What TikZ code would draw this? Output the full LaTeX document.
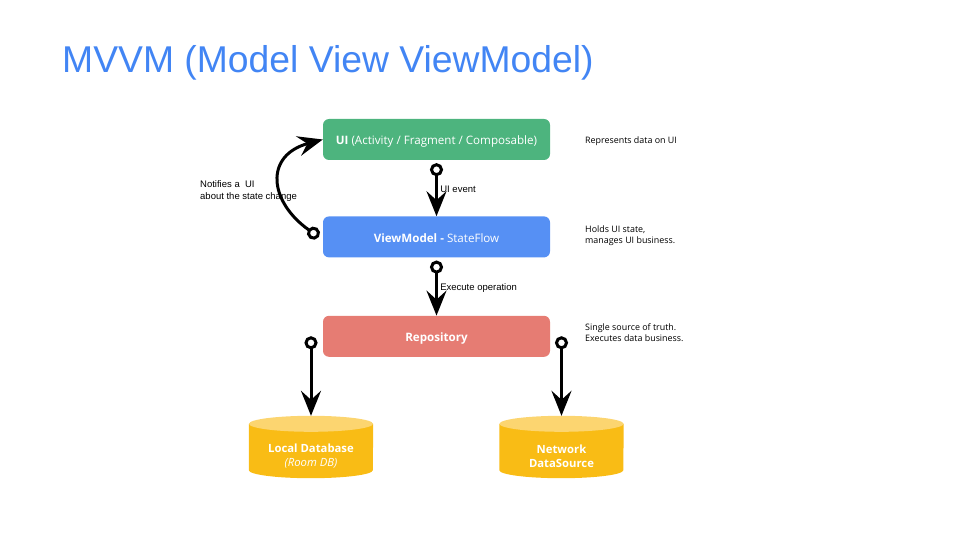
\documentclass[tikz,border=0pt]{standalone}
\usepackage{fontspec}
\setmainfont{Open Sans}
\newfontfamily\arialfont{Liberation Sans}
\usetikzlibrary{arrows.meta}
\usetikzlibrary{calc}
\usetikzlibrary{positioning}
\definecolor{titleblue}{HTML}{4285F4}
\definecolor{uigreen}{HTML}{4DB47E}
\definecolor{vmblue}{HTML}{5690F4}
\definecolor{repored}{HTML}{E67C73}
\definecolor{dbyellow}{HTML}{F9BC15}
\definecolor{dbtop}{HTML}{FCD570}
\tikzset{>=Stealth}

\begin{document}
\begin{tikzpicture}[x=1pt,y=-1pt,
  layer/.style={rectangle,rounded corners=6pt,minimum width=227pt,minimum height=41pt,inner sep=0pt,text height=11.5pt,text depth=0.8pt,text=white,font=\fontsize{11.6}{13}\selectfont},
  dbbox/.style={rectangle,minimum width=124pt,minimum height=62pt,inner sep=0pt},
  dbtext/.style={text=white,align=center,font=\fontsize{11.3}{14}\selectfont},
  flow/.style={line width=3pt,{Circle[open,length=13pt]}-{Stealth[length=25pt,width=20pt,inset=9pt]}},
  note/.style={anchor=west,align=left,inner sep=0pt,font=\fontsize{8.9}{11}\selectfont},
  edgelabel/.style={font=\arialfont\fontsize{9.5}{12}\selectfont}]

\useasboundingbox (0,0) rectangle (960,540);

\node (title) [anchor=base west,inner sep=0pt,text=titleblue,font=\arialfont\fontsize{37.3}{44}\selectfont] at (62,73) {MVVM (Model View ViewModel)};

\node (ui) [layer,fill=uigreen] at (436.5,139.5) {\textbf{UI} (Activity / Fragment / Composable)};
\node (vm) [layer,fill=vmblue,below=56pt of ui] {\textbf{ViewModel -} StateFlow};
\node (repo) [layer,fill=repored,below=58pt of vm] {\textbf{Repository}};

% data sources, drawn as cylinders round two plain boxes
\node (localdb) [dbbox] at (311,447) {};
\node (netds) [dbbox] at (561.5,447) {};
\foreach \db in {localdb,netds} {
  \fill [dbyellow] ($(\db.north west)+(0,8)$) -- ($(\db.south west)+(0,-8)$)
        arc [start angle=180,end angle=360,x radius=62pt,y radius=8pt]
        -- ($(\db.north east)+(0,8)$) -- cycle;
  \fill [dbtop] ($(\db.north)+(0,8)$) ellipse [x radius=62pt,y radius=8pt];
}
\node (localdbtext) [dbtext] at ($(localdb.center)+(0,9)$) {\textbf{Local Database}\\\textit{(Room DB)}};
\node (netdstext) [dbtext] at ($(netds.center)+(0,9)$) {\textbf{Network}\\\textbf{DataSource}};

\draw [flow] ($(ui.south)+(0,3)$) -- (vm.north) node [midway,right=-1pt,edgelabel] {UI event};
\draw [flow] ($(vm.south)+(0,3)$) -- (repo.north) node [midway,right=-1pt,edgelabel] {Execute operation};
\draw [flow] (localdb.north |- repo.west) -- (localdb.north);
\draw [flow] (netds.north |- repo.east) -- (netds.north);
\draw [flow] ($(vm.west)+(-4,0)$) to [out=145,in=195,looseness=1.6] (ui.west);

\node (notifytext) [edgelabel,anchor=north west,align=left,inner sep=0pt] at (200,180) {Notifies a\ \ UI\\about the state change};

\node (uinote) [note] at (585,141) {Represents data on UI};
\node (vmnote) [note] at (585,235.5) {Holds UI state,\\manages UI business.};
\node (reponote) [note] at (585,332.5) {Single source of truth.\\Executes data business.};

\end{tikzpicture}
\end{document}
